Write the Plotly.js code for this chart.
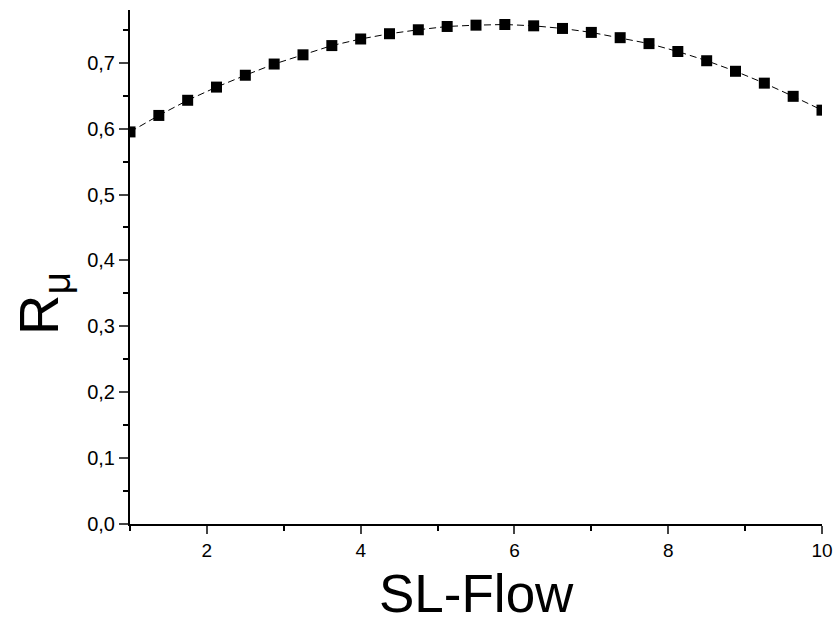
<!DOCTYPE html>
<html>
<head>
<meta charset="utf-8">
<script src="https://cdn.plot.ly/plotly-3.0.1.min.js"></script>
<style>html,body{margin:0;padding:0;background:#fff;}#chart{width:833px;height:625px;}</style>
</head>
<body>
<div id="chart"></div>
<script>
const slFlow = [1, 1.375, 1.75, 2.125, 2.5, 2.875, 3.25, 3.625, 4, 4.375, 4.75, 5.125, 5.5,
                5.875, 6.25, 6.625, 7, 7.375, 7.75, 8.125, 8.5, 8.875, 9.25, 9.625, 10];
const rMu = [0.595, 0.620, 0.643, 0.663, 0.681, 0.698, 0.712, 0.726, 0.736, 0.744, 0.750, 0.755, 0.757,
             0.758, 0.756, 0.752, 0.746, 0.738, 0.729, 0.717, 0.703, 0.687, 0.669, 0.649, 0.628];
const xTicks = [2, 4, 6, 8, 10];
const yTicks = [0, 0.1, 0.2, 0.3, 0.4, 0.5, 0.6, 0.7];

const font = 'Liberation Sans, Arial, sans-serif';
Plotly.newPlot('chart', [{
  x: slFlow, y: rMu, type: 'scatter', mode: 'lines+markers',
  line: {color: '#000', width: 1, dash: '7px,4px'},
  marker: {symbol: 'square', size: 11, color: '#000'},
  cliponaxis: true, showlegend: false
}], {
  width: 833, height: 625,
  margin: {l: 130, r: 11, t: 10, b: 101},
  paper_bgcolor: '#fff', plot_bgcolor: '#fff',
  separators: ',.',
  font: {family: font, color: '#000', size: 19},
  xaxis: {
    range: [1, 10], tickvals: xTicks, ticks: 'outside', ticklen: 8, tickwidth: 2,
    showline: true, linewidth: 2, linecolor: '#000', showgrid: false, zeroline: false,
    minor: {dtick: 1, tick0: 1, ticks: 'outside', ticklen: 5, tickwidth: 2, tickcolor: '#000'},
    tickfont: {size: 19}
  },
  yaxis: {
    range: [0, 0.78], tickvals: yTicks, tickformat: '.1f', ticks: 'outside', ticklen: 9, tickwidth: 2,
    showline: true, linewidth: 2, linecolor: '#000', showgrid: false, zeroline: false,
    minor: {dtick: 0.05, tick0: 0, ticks: 'outside', ticklen: 5, tickwidth: 2, tickcolor: '#000'},
    tickfont: {size: 20}
  },
  annotations: [{
    text: 'R<sub>μ</sub>', textangle: -90, showarrow: false,
    xref: 'paper', yref: 'paper', x: (42 - 130) / 692, y: (524 - 304) / 514,
    xanchor: 'center', yanchor: 'middle',
    font: {size: 56, family: font, color: '#000'}
  }, {
    text: 'SL-Flow', showarrow: false,
    xref: 'paper', yref: 'paper', x: 0.5, y: (524 - 593) / 514,
    xanchor: 'center', yanchor: 'middle',
    font: {size: 53, family: font, color: '#000'}
  }]
}, {displayModeBar: false, staticPlot: true});
</script>
</body>
</html>
